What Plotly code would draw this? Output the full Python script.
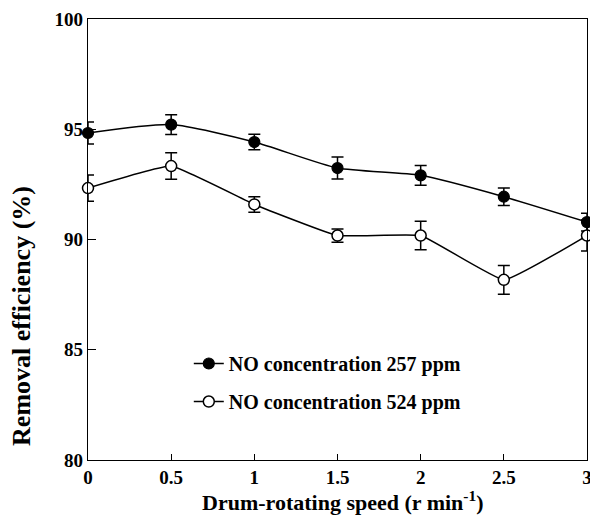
import plotly.graph_objects as go

speed = [0, 0.5, 1, 1.5, 2, 2.5, 3]
eff_257 = [94.83, 95.21, 94.42, 93.24, 92.91, 91.94, 90.79]
err_257 = [0.5, 0.45, 0.35, 0.5, 0.45, 0.4, 0.4]
eff_524 = [92.33, 93.33, 91.59, 90.18, 90.18, 88.17, 90.18]
err_524 = [0.6, 0.6, 0.35, 0.3, 0.65, 0.65, 0.7]
names = ["<b>NO concentration 257 ppm</b>", "<b>NO concentration 524 ppm</b>"]
x_ticks = [0, 0.5, 1, 1.5, 2, 2.5, 3]
y_ticks = [80, 85, 90, 95, 100]
x_title = "<b>Drum-rotating speed (r min<sup>-1</sup>)</b>"
y_title = "<b>Removal efficiency (%)</b>"

font_family = "Liberation Serif, Times New Roman, serif"

fig = go.Figure()
fig.add_trace(go.Scatter(
    x=speed, y=eff_257, name=names[0], mode="lines+markers",
    line=dict(color="black", width=1.5, shape="spline", smoothing=0.6),
    marker=dict(symbol="circle", size=11, color="black", line=dict(color="black", width=1.2)),
    error_y=dict(type="data", array=err_257, color="black", thickness=1.5, width=6),
    cliponaxis=False, legendgroup="a",
))
fig.add_trace(go.Scatter(
    x=speed, y=eff_524, name=names[1], mode="lines+markers",
    line=dict(color="black", width=1.5, shape="spline", smoothing=0.3),
    marker=dict(symbol="circle", size=11, color="white", line=dict(color="black", width=1.5)),
    error_y=dict(type="data", array=err_524, color="black", thickness=1.5, width=6),
    cliponaxis=False, legendgroup="b",
))

fig.add_annotation(text=x_title, xref="paper", yref="paper", x=0.511, y=-0.093,
                   xanchor="center", yanchor="middle", showarrow=False,
                   font=dict(size=22, family=font_family, color="black"))
fig.add_annotation(text=y_title, xref="paper", yref="paper", x=-0.132, y=0.327,
                   xanchor="center", yanchor="middle", textangle=-90, showarrow=False,
                   font=dict(size=26, family=font_family, color="black"))

fig.update_layout(
    width=590, height=521,
    margin=dict(l=88, r=3, t=19, b=61),
    paper_bgcolor="white", plot_bgcolor="white",
    font=dict(family=font_family, color="black", size=19),
    showlegend=True,
    legend=dict(x=0.202, y=0.263, xanchor="left", yanchor="top",
                bgcolor="rgba(0,0,0,0)", tracegroupgap=9,
                font=dict(size=20, family=font_family, color="black"),
                traceorder="grouped"),
    xaxis=dict(
        range=[0, 3], tickvals=x_ticks, ticktext=[f"<b>{v:g}</b>" for v in x_ticks],
        ticks="inside", ticklen=6, tickwidth=1.2, tickcolor="black",
        showline=True, linecolor="black", linewidth=1.2, mirror=True,
        showgrid=False, zeroline=False, ticklabeloverflow="allow", automargin=False,
        tickfont=dict(size=19),
    ),
    yaxis=dict(
        range=[80, 100], tickvals=y_ticks, ticktext=[f"<b>{v}</b>" for v in y_ticks],
        ticks="inside", ticklen=8, tickwidth=1.2, tickcolor="black",
        showline=True, linecolor="black", linewidth=1.2, mirror=True,
        showgrid=False, zeroline=False, automargin=False,
        tickfont=dict(size=19),
    ),
)

fig.write_html("out.html")
